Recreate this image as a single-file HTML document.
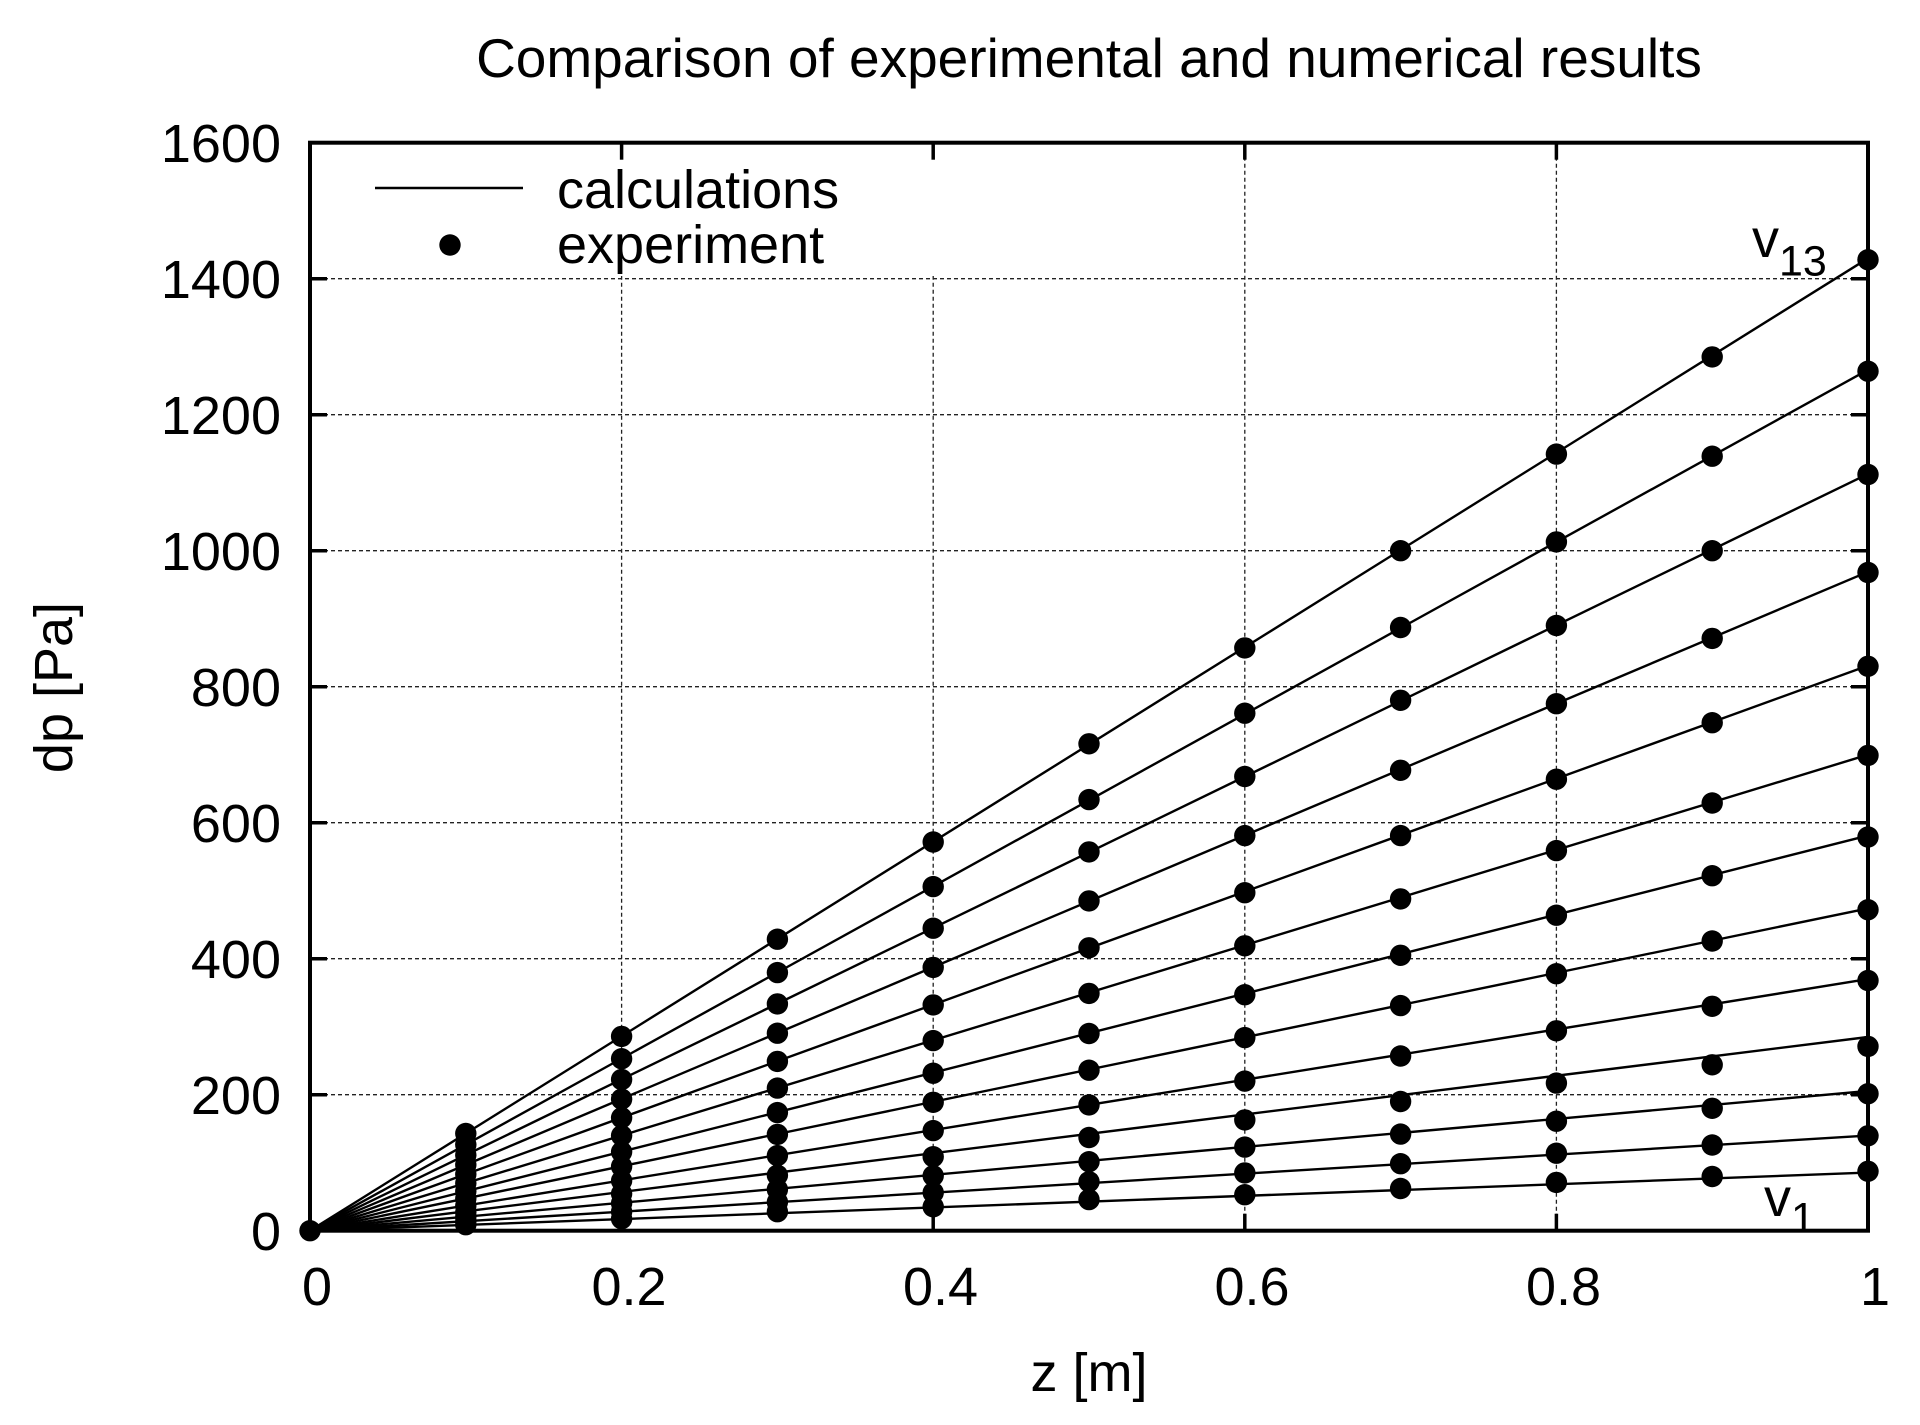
<!DOCTYPE html>
<html>
<head>
<meta charset="utf-8">
<style>
html,body{margin:0;padding:0;background:#fff;}
svg{display:block;}
text{font-family:"Liberation Sans",Arial,sans-serif;fill:#000;}
</style>
</head>
<body>
<svg xmlns="http://www.w3.org/2000/svg" width="1920" height="1425" viewBox="0 0 1920 1425">
<rect x="0" y="0" width="1920" height="1425" fill="#fff"/>

<!-- grid -->
<g stroke="#222" stroke-width="1.3" stroke-dasharray="4 3" fill="none">
<line x1="310" y1="1094.7" x2="1868" y2="1094.7"/>
<line x1="310" y1="958.7" x2="1868" y2="958.7"/>
<line x1="310" y1="822.7" x2="1868" y2="822.7"/>
<line x1="310" y1="686.7" x2="1868" y2="686.7"/>
<line x1="310" y1="550.7" x2="1868" y2="550.7"/>
<line x1="310" y1="414.7" x2="1868" y2="414.7"/>
<line x1="310" y1="278.7" x2="1868" y2="278.7"/>
<line x1="621.6" y1="142.7" x2="621.6" y2="1230.7"/>
<line x1="933.2" y1="142.7" x2="933.2" y2="1230.7"/>
<line x1="1244.8" y1="142.7" x2="1244.8" y2="1230.7"/>
<line x1="1556.4" y1="142.7" x2="1556.4" y2="1230.7"/>
</g>
<!-- opaque key -->
<rect x="312" y="145" width="700" height="131" fill="#fff"/>

<!-- calculation lines -->
<g stroke="#000" stroke-width="2.4" fill="none">
<line x1="310" y1="1230.7" x2="1868" y2="1172.6"/>
<line x1="310" y1="1230.7" x2="1868" y2="1135.6"/>
<line x1="310" y1="1230.7" x2="1868" y2="1091.0"/>
<line x1="310" y1="1230.7" x2="1868" y2="1037.0"/>
<line x1="310" y1="1230.7" x2="1868" y2="979.1"/>
<line x1="310" y1="1230.7" x2="1868" y2="908.4"/>
<line x1="310" y1="1230.7" x2="1868" y2="835.6"/>
<line x1="310" y1="1230.7" x2="1868" y2="754.7"/>
<line x1="310" y1="1230.7" x2="1868" y2="665.6"/>
<line x1="310" y1="1230.7" x2="1868" y2="571.8"/>
<line x1="310" y1="1230.7" x2="1868" y2="473.9"/>
<line x1="310" y1="1230.7" x2="1868" y2="369.8"/>
<line x1="310" y1="1230.7" x2="1868" y2="258.3"/>
</g>

<!-- experiment points -->
<g fill="#000">
<circle cx="310" cy="1230.7" r="10.7"/>
<!-- v1 -->
<circle cx="465.8" cy="1224.7" r="10.7"/><circle cx="621.6" cy="1218.7" r="10.7"/><circle cx="777.4" cy="1211.7" r="10.7"/><circle cx="933.2" cy="1206.8" r="10.7"/><circle cx="1089" cy="1199.6" r="10.7"/><circle cx="1244.8" cy="1194.7" r="10.7"/><circle cx="1400.6" cy="1188.5" r="10.7"/><circle cx="1556.4" cy="1182.4" r="10.7"/><circle cx="1712.2" cy="1176.5" r="10.7"/><circle cx="1868" cy="1171.3" r="10.7"/>
<!-- v2 -->
<circle cx="465.8" cy="1221.2" r="10.7"/><circle cx="621.6" cy="1211.7" r="10.7"/><circle cx="777.4" cy="1202.1" r="10.7"/><circle cx="933.2" cy="1192.6" r="10.7"/><circle cx="1089" cy="1181.7" r="10.7"/><circle cx="1244.8" cy="1172.9" r="10.7"/><circle cx="1400.6" cy="1163.7" r="10.7"/><circle cx="1556.4" cy="1153.2" r="10.7"/><circle cx="1712.2" cy="1145.0" r="10.7"/><circle cx="1868" cy="1135.8" r="10.7"/>
<!-- v3 -->
<circle cx="465.8" cy="1217.0" r="10.7"/><circle cx="621.6" cy="1203.2" r="10.7"/><circle cx="777.4" cy="1189.5" r="10.7"/><circle cx="933.2" cy="1175.8" r="10.7"/><circle cx="1089" cy="1161.7" r="10.7"/><circle cx="1244.8" cy="1147.1" r="10.7"/><circle cx="1400.6" cy="1134.1" r="10.7"/><circle cx="1556.4" cy="1121.2" r="10.7"/><circle cx="1712.2" cy="1108.3" r="10.7"/><circle cx="1868" cy="1093.7" r="10.7"/>
<!-- v4 -->
<circle cx="465.8" cy="1212.2" r="10.7"/><circle cx="621.6" cy="1193.7" r="10.7"/><circle cx="777.4" cy="1175.2" r="10.7"/><circle cx="933.2" cy="1156.7" r="10.7"/><circle cx="1089" cy="1137.5" r="10.7"/><circle cx="1244.8" cy="1119.9" r="10.7"/><circle cx="1400.6" cy="1101.5" r="10.7"/><circle cx="1556.4" cy="1083.1" r="10.7"/><circle cx="1712.2" cy="1064.8" r="10.7"/><circle cx="1868" cy="1046.4" r="10.7"/>
<!-- v5 -->
<circle cx="465.8" cy="1205.7" r="10.7"/><circle cx="621.6" cy="1180.7" r="10.7"/><circle cx="777.4" cy="1155.6" r="10.7"/><circle cx="933.2" cy="1130.6" r="10.7"/><circle cx="1089" cy="1104.9" r="10.7"/><circle cx="1244.8" cy="1081.1" r="10.7"/><circle cx="1400.6" cy="1056.0" r="10.7"/><circle cx="1556.4" cy="1030.8" r="10.7"/><circle cx="1712.2" cy="1006.3" r="10.7"/><circle cx="1868" cy="980.5" r="10.7"/>
<!-- v6 -->
<circle cx="465.8" cy="1198.6" r="10.7"/><circle cx="621.6" cy="1166.5" r="10.7"/><circle cx="777.4" cy="1134.4" r="10.7"/><circle cx="933.2" cy="1102.3" r="10.7"/><circle cx="1089" cy="1070.2" r="10.7"/><circle cx="1244.8" cy="1037.6" r="10.7"/><circle cx="1400.6" cy="1005.6" r="10.7"/><circle cx="1556.4" cy="973.7" r="10.7"/><circle cx="1712.2" cy="941.0" r="10.7"/><circle cx="1868" cy="909.7" r="10.7"/>
<!-- v7 -->
<circle cx="465.8" cy="1191.3" r="10.7"/><circle cx="621.6" cy="1151.9" r="10.7"/><circle cx="777.4" cy="1112.6" r="10.7"/><circle cx="933.2" cy="1073.2" r="10.7"/><circle cx="1089" cy="1033.5" r="10.7"/><circle cx="1244.8" cy="994.7" r="10.7"/><circle cx="1400.6" cy="955.3" r="10.7"/><circle cx="1556.4" cy="915.2" r="10.7"/><circle cx="1712.2" cy="875.7" r="10.7"/><circle cx="1868" cy="837.0" r="10.7"/>
<!-- v8 -->
<circle cx="465.8" cy="1183.2" r="10.7"/><circle cx="621.6" cy="1135.6" r="10.7"/><circle cx="777.4" cy="1088.1" r="10.7"/><circle cx="933.2" cy="1040.6" r="10.7"/><circle cx="1089" cy="993.4" r="10.7"/><circle cx="1244.8" cy="945.8" r="10.7"/><circle cx="1400.6" cy="898.9" r="10.7"/><circle cx="1556.4" cy="850.6" r="10.7"/><circle cx="1712.2" cy="803.0" r="10.7"/><circle cx="1868" cy="755.4" r="10.7"/>
<!-- v9 -->
<circle cx="465.8" cy="1174.3" r="10.7"/><circle cx="621.6" cy="1117.8" r="10.7"/><circle cx="777.4" cy="1061.4" r="10.7"/><circle cx="933.2" cy="1004.9" r="10.7"/><circle cx="1089" cy="947.8" r="10.7"/><circle cx="1244.8" cy="892.7" r="10.7"/><circle cx="1400.6" cy="835.6" r="10.7"/><circle cx="1556.4" cy="779.2" r="10.7"/><circle cx="1712.2" cy="722.7" r="10.7"/><circle cx="1868" cy="666.3" r="10.7"/>
<!-- v10 -->
<circle cx="465.8" cy="1164.9" r="10.7"/><circle cx="621.6" cy="1099.1" r="10.7"/><circle cx="777.4" cy="1033.2" r="10.7"/><circle cx="933.2" cy="967.4" r="10.7"/><circle cx="1089" cy="900.9" r="10.7"/><circle cx="1244.8" cy="835.6" r="10.7"/><circle cx="1400.6" cy="770.3" r="10.7"/><circle cx="1556.4" cy="703.7" r="10.7"/><circle cx="1712.2" cy="638.4" r="10.7"/><circle cx="1868" cy="572.5" r="10.7"/>
<!-- v11 -->
<circle cx="465.8" cy="1155.1" r="10.7"/><circle cx="621.6" cy="1079.5" r="10.7"/><circle cx="777.4" cy="1003.9" r="10.7"/><circle cx="933.2" cy="928.2" r="10.7"/><circle cx="1089" cy="851.9" r="10.7"/><circle cx="1244.8" cy="776.5" r="10.7"/><circle cx="1400.6" cy="700.3" r="10.7"/><circle cx="1556.4" cy="625.5" r="10.7"/><circle cx="1712.2" cy="550.7" r="10.7"/><circle cx="1868" cy="474.5" r="10.7"/>
<!-- v12 -->
<circle cx="465.8" cy="1144.7" r="10.7"/><circle cx="621.6" cy="1058.7" r="10.7"/><circle cx="777.4" cy="972.6" r="10.7"/><circle cx="933.2" cy="886.6" r="10.7"/><circle cx="1089" cy="799.6" r="10.7"/><circle cx="1244.8" cy="713.2" r="10.7"/><circle cx="1400.6" cy="627.5" r="10.7"/><circle cx="1556.4" cy="541.9" r="10.7"/><circle cx="1712.2" cy="456.2" r="10.7"/><circle cx="1868" cy="371.2" r="10.7"/>
<!-- v13 -->
<circle cx="465.8" cy="1133.5" r="10.7"/><circle cx="621.6" cy="1036.4" r="10.7"/><circle cx="777.4" cy="939.2" r="10.7"/><circle cx="933.2" cy="842.0" r="10.7"/><circle cx="1089" cy="743.8" r="10.7"/><circle cx="1244.8" cy="647.9" r="10.7"/><circle cx="1400.6" cy="550.7" r="10.7"/><circle cx="1556.4" cy="454.1" r="10.7"/><circle cx="1712.2" cy="356.9" r="10.7"/><circle cx="1868" cy="259.7" r="10.7"/>
</g>

<!-- border -->
<rect x="310" y="142.7" width="1558" height="1088" fill="none" stroke="#000" stroke-width="4"/>

<!-- ticks -->
<g stroke="#000" stroke-width="3.5">
<line x1="310" y1="1094.7" x2="327" y2="1094.7"/><line x1="1868" y1="1094.7" x2="1851" y2="1094.7"/>
<line x1="310" y1="958.7" x2="327" y2="958.7"/><line x1="1868" y1="958.7" x2="1851" y2="958.7"/>
<line x1="310" y1="822.7" x2="327" y2="822.7"/><line x1="1868" y1="822.7" x2="1851" y2="822.7"/>
<line x1="310" y1="686.7" x2="327" y2="686.7"/><line x1="1868" y1="686.7" x2="1851" y2="686.7"/>
<line x1="310" y1="550.7" x2="327" y2="550.7"/><line x1="1868" y1="550.7" x2="1851" y2="550.7"/>
<line x1="310" y1="414.7" x2="327" y2="414.7"/><line x1="1868" y1="414.7" x2="1851" y2="414.7"/>
<line x1="310" y1="278.7" x2="327" y2="278.7"/><line x1="1868" y1="278.7" x2="1851" y2="278.7"/>
<line x1="621.6" y1="1230.7" x2="621.6" y2="1213.7"/><line x1="621.6" y1="142.7" x2="621.6" y2="159.7"/>
<line x1="933.2" y1="1230.7" x2="933.2" y2="1213.7"/><line x1="933.2" y1="142.7" x2="933.2" y2="159.7"/>
<line x1="1244.8" y1="1230.7" x2="1244.8" y2="1213.7"/><line x1="1244.8" y1="142.7" x2="1244.8" y2="159.7"/>
<line x1="1556.4" y1="1230.7" x2="1556.4" y2="1213.7"/><line x1="1556.4" y1="142.7" x2="1556.4" y2="159.7"/>
</g>

<!-- title -->
<text x="1089" y="77" font-size="55" text-anchor="middle">Comparison of experimental and numerical results</text>

<!-- y tick labels -->
<g font-size="54" text-anchor="end">
<text x="281" y="1250.2">0</text>
<text x="281" y="1114.2">200</text>
<text x="281" y="978.2">400</text>
<text x="281" y="842.2">600</text>
<text x="281" y="706.2">800</text>
<text x="281" y="570.2">1000</text>
<text x="281" y="434.2">1200</text>
<text x="281" y="298.2">1400</text>
<text x="281" y="162.2">1600</text>
</g>

<!-- x tick labels -->
<g font-size="54" text-anchor="middle">
<text x="317" y="1305">0</text>
<text x="629" y="1305">0.2</text>
<text x="940.5" y="1305">0.4</text>
<text x="1252" y="1305">0.6</text>
<text x="1563.5" y="1305">0.8</text>
<text x="1875" y="1305">1</text>
</g>

<!-- axis labels -->
<text x="1089" y="1391" font-size="54" text-anchor="middle">z [m]</text>
<text transform="translate(72,687.5) rotate(-90)" font-size="54" text-anchor="middle">dp [Pa]</text>

<!-- legend -->
<line x1="375" y1="188" x2="523" y2="188" stroke="#000" stroke-width="2.4"/>
<circle cx="450" cy="245" r="10.7" fill="#000"/>
<text x="557" y="208" font-size="54">calculations</text>
<text x="557" y="263" font-size="54">experiment</text>

<!-- series labels -->
<text x="1752" y="257" font-size="54">v<tspan dy="18.5" font-size="43">13</tspan></text>
<text x="1764" y="1216" font-size="54">v<tspan dy="16.7" font-size="43">1</tspan></text>
</svg>
</body>
</html>
